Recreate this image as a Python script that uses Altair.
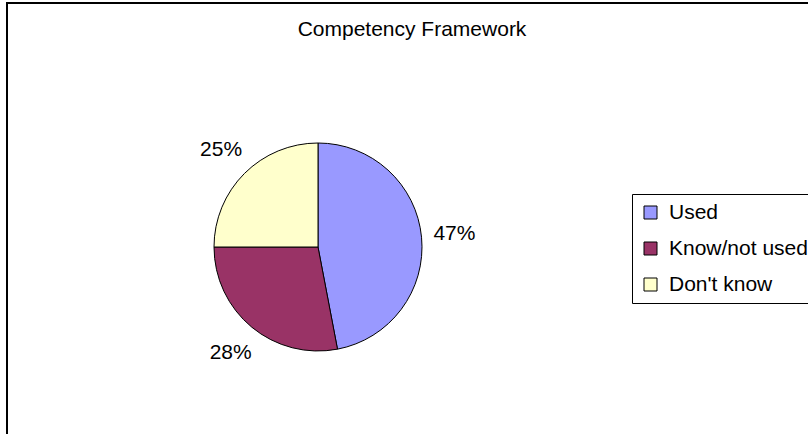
import altair as alt
import pandas as pd

categories = ["Used", "Know/not used", "Don't know"]
values = [47, 28, 25]
labels = ["47%", "28%", "25%"]
colors = ["#9999FF", "#993366", "#FFFFCC"]
title_text = "Competency Framework"

df = pd.DataFrame({
    "category": categories,
    "value": values,
    "label": labels,
    "idx": list(range(len(categories))),
})

FONT = "Liberation Sans"
CX, CY = 318, 247

base = alt.Chart(df)

color_enc = alt.Color(
    "category:N",
    scale=alt.Scale(domain=categories, range=colors),
    sort=categories,
    legend=alt.Legend(
        orient="none", legendX=632, legendY=194, title=None,
        strokeColor="black", fillColor="white", padding=8,
        symbolType="square", symbolSize=169, symbolStrokeColor="black",
        symbolStrokeWidth=1, labelFontSize=21, labelFont=FONT,
        labelColor="black", rowPadding=14, labelOffset=8,
    ),
)

pie = base.mark_arc(outerRadius=104, stroke="black", strokeWidth=1).encode(
    theta=alt.Theta("value:Q", stack=True),
    color=color_enc,
    order=alt.Order("idx:Q"),
    x=alt.value(CX),
    y=alt.value(CY),
)

text = base.mark_text(radius=137, fontSize=21, font=FONT, color="black",
                      align="center", baseline="middle").encode(
    theta=alt.Theta("value:Q", stack=True),
    text="label:N",
    detail="category:N",
    order=alt.Order("idx:Q"),
    x=alt.value(CX),
    y=alt.value(CY),
)

frame_df = pd.DataFrame({"t": [title_text]})
frame = alt.Chart(frame_df).mark_rect(fill=None, stroke="black", strokeWidth=2).encode(
    x=alt.value(7), y=alt.value(3), x2=alt.value(840), y2=alt.value(470),
)
title = alt.Chart(frame_df).mark_text(fontSize=21, font=FONT, color="black",
                                      align="center", baseline="middle").encode(
    text="t:N", x=alt.value(412), y=alt.value(30),
)

chart = alt.layer(frame, title, pie, text).properties(
    width=808, height=434, padding=0, autosize=alt.AutoSizeParams(type="none"),
    background="white",
).configure_view(stroke=None)

chart.save("out.html", embed_options={"renderer": "svg", "actions": False})
